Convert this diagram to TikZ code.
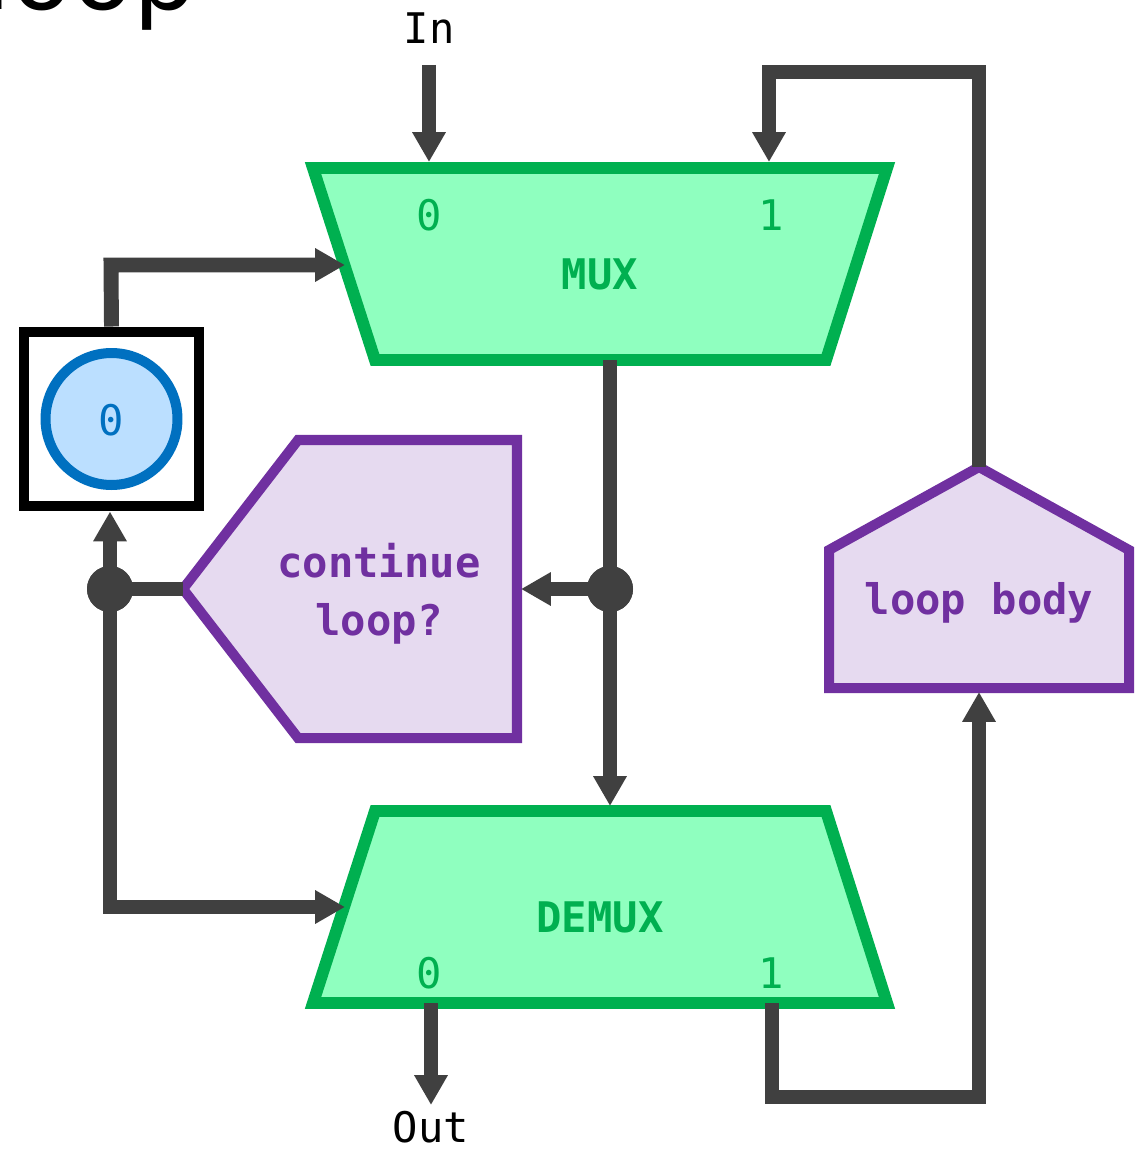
\documentclass[tikz,border=0pt]{standalone}
\usepackage{fontspec}
\setmonofont[RawFeature=+zero]{DejaVu Sans Mono}
\newfontfamily\titlefont{DejaVu Sans}
\usetikzlibrary{arrows.meta}
\definecolor{wirec}{HTML}{404040}
\definecolor{gline}{HTML}{00B050}
\definecolor{gfill}{HTML}{8FFFBF}
\definecolor{pline}{HTML}{7030A0}
\definecolor{pfill}{HTML}{E6DAF0}
\definecolor{bline}{HTML}{0070C0}
\definecolor{bfill}{HTML}{BBDFFF}
\tikzset{
  wire/.style={draw=wirec, line width=8.5pt, line join=miter},
  arr/.style={wire, -{Triangle[width=18pt,length=17pt]}},
  muxbox/.style={draw=gline, fill=gfill, line width=6.8pt, line join=miter},
  pentbox/.style={draw=pline, fill=pfill, line width=5.7pt, line join=miter},
  txt/.style={font=\ttfamily\fontsize{24}{28}\selectfont, inner sep=0pt, anchor=base},
  gtxt/.style={txt, text=gline},
  gbold/.style={txt, text=gline, font=\ttfamily\bfseries\fontsize{24}{28}\selectfont},
  pbold/.style={txt, text=pline, font=\ttfamily\bfseries\fontsize{24}{28}\selectfont},
  dot/.style={circle, fill=wirec, minimum size=0.92cm, inner sep=0pt}
}
\begin{document}
\begin{tikzpicture}[x=0.02cm,y=-0.02cm]
\useasboundingbox (0,0) rectangle (1143,1149);
% title (cut off)
\node[inner sep=0pt, anchor=base west, font=\titlefont\fontsize{57}{60}\selectfont] (title) at (-17,10) {loop};

% MUX
\draw[muxbox] (313,168) -- (887,168) -- (826,360) -- (375,360) -- cycle;
\node[gtxt] (m0) at (429,230) {0};
\node[gtxt] (m1) at (771,230) {1};
\node[gbold] (mux) at (600,289) {MUX};
\coordinate (muxIn0) at (429,162);
\coordinate (muxIn1) at (769,162);
\coordinate (muxSel) at (345,265);
\coordinate (muxOut) at (610,360);

% DEMUX
\draw[muxbox] (375,811) -- (826,811) -- (887,1003) -- (313,1003) -- cycle;
\node[gbold] (demux) at (600,932) {DEMUX};
\node[gtxt] (d0) at (429,988) {0};
\node[gtxt] (d1) at (771,988) {1};
\coordinate (demuxIn) at (610,806);
\coordinate (demuxSel) at (345,907);
\coordinate (demuxOut0) at (431,1003);
\coordinate (demuxOut1) at (772,1003);

% register with constant 0
\node[draw=black, line width=5.7pt, minimum size=3.5cm, inner sep=0pt] (reg) at (111.5,419) {};
\node[circle, draw=bline, fill=bfill, line width=5.7pt, minimum size=2.64cm, inner sep=0pt] (c0) at (111.5,419) {};
\node[txt, text=bline] (c0t) at (111.5,435) {0};

% continue loop?
\draw[pentbox] (183,589) -- (298,440) -- (517,440) -- (517,738) -- (298,738) -- cycle;
\coordinate (clTip) at (183,589);
\coordinate (clR) at (521,589);
\node[pbold] (cl1) at (379,577) {continue};
\node[pbold] (cl2) at (379,635) {loop?};

% loop body
\draw[pentbox] (829,550) -- (979,467) -- (1129,550) -- (1129,688) -- (829,688) -- cycle;
\coordinate (lbTop) at (979,467);
\coordinate (lbBot) at (979,692);
\node[pbold] (lb) at (979,614) {loop body};

% labels In / Out
\node[txt] (in) at (429,44) {In};
\node[txt] (out) at (431,1142) {Out};
\coordinate (inStart) at (429,65);
\coordinate (outEnd) at (431,1105);

% junctions
\node[dot] (j1) at (610,589) {};
\node[dot] (j2) at (110,589) {};

% wires
\draw[arr] (inStart) -- (muxIn0);
\draw[arr] (lbTop) -- (979,72) -- (769,72) -- (muxIn1);
\draw[arr] (reg.north) -- (111,265) -- (muxSel);
\draw[arr] (muxOut) -- (demuxIn);
\draw[arr] (j1.center) -- (clR);
\draw[wire] (clTip) -- (j2.center);
\draw[arr] (j2.center) -- (j2 |- reg.south);
\draw[arr] (j2.center) -- (110,907) -- (demuxSel);
\draw[arr] (demuxOut0) -- (outEnd);
\draw[arr] (demuxOut1) -- (772,1097) -- (979,1097) -- (lbBot);
\node[dot] at (j1) {};
\node[dot] at (j2) {};
\end{tikzpicture}
\end{document}
